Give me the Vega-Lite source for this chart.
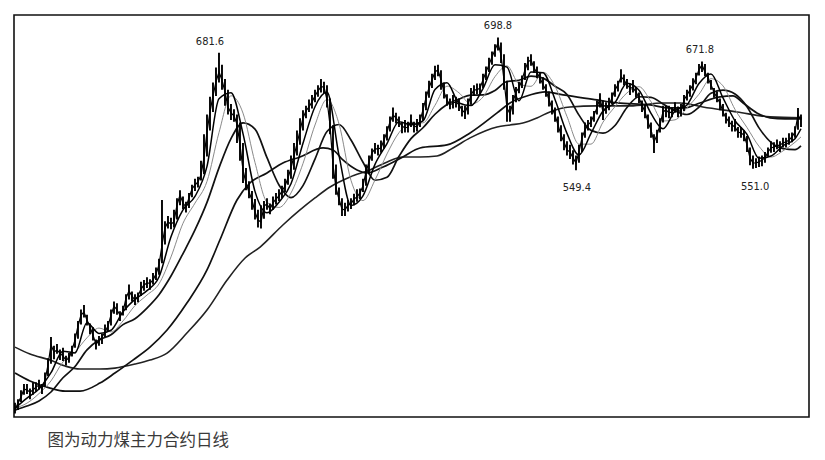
{
  "$schema": "https://vega.github.io/schema/vega-lite/v6.json",
  "width": 795,
  "height": 402,
  "autosize": {"type": "none"},
  "padding": {"left": 14, "top": 15, "right": 16, "bottom": 43},
  "background": "#ffffff",
  "config": {"view": {"stroke": "#111111", "strokeWidth": 1.6}},
  "title": {"text": "图为动力煤主力合约日线", "orient": "bottom", "anchor": "start", "offset": 16, "dx": 36, "font": "Noto Sans CJK SC", "fontSize": 16.5, "fontWeight": "normal", "color": "#3a3a3a", "baseline": "top"},
  "datasets": {
    "price": [
      {"t":0,"c":279.8,"h":288,"l":276},{"t":1,"c":287.6,"h":292,"l":280},{"t":2,"c":294.4,"h":302,"l":289},{"t":3,"c":303.4,"h":309,"l":297},{"t":4,"c":302.3,"h":309,"l":298},{"t":5,"c":300,"h":304,"l":292},{"t":6,"c":302.3,"h":311,"l":297},{"t":7,"c":305.6,"h":311,"l":300},{"t":8,"c":307.9,"h":314,"l":303},{"t":9,"c":304.5,"h":309,"l":298},
      {"t":10,"c":313.5,"h":322,"l":306},{"t":11,"c":330.4,"h":338,"l":318},{"t":12,"c":352.9,"h":362,"l":332},{"t":13,"c":345,"h":352,"l":337},{"t":14,"c":347.3,"h":354,"l":343},{"t":15,"c":343.9,"h":348,"l":336},{"t":16,"c":340.5,"h":350,"l":335},{"t":17,"c":336,"h":341,"l":330},{"t":18,"c":338.3,"h":344,"l":333},{"t":19,"c":347.3,"h":352,"l":340},
      {"t":20,"c":358.5,"h":366,"l":350},{"t":21,"c":374.3,"h":380,"l":360},{"t":22,"c":386.6,"h":393,"l":376},{"t":23,"c":390,"h":398,"l":384},{"t":24,"c":381,"h":387,"l":375},{"t":25,"c":373.1,"h":377,"l":365},{"t":26,"c":364.1,"h":373,"l":358},{"t":27,"c":354,"h":359,"l":348},{"t":28,"c":357.4,"h":363,"l":352},{"t":29,"c":361.9,"h":366,"l":354},
      {"t":30,"c":367.5,"h":376,"l":362},{"t":31,"c":374.3,"h":380,"l":368},{"t":32,"c":386.6,"h":393,"l":375},{"t":33,"c":396.8,"h":402,"l":388},{"t":34,"c":392.3,"h":400,"l":387},{"t":35,"c":386.6,"h":391,"l":380},{"t":36,"c":390,"h":397,"l":386},{"t":37,"c":405.8,"h":410,"l":392},{"t":38,"c":413.6,"h":421,"l":404},{"t":39,"c":408,"h":413,"l":402},
      {"t":40,"c":403.5,"h":410,"l":398},{"t":41,"c":408,"h":412,"l":401},{"t":42,"c":415.9,"h":424,"l":408},{"t":43,"c":420.4,"h":426,"l":414},{"t":44,"c":422.6,"h":429,"l":417},{"t":45,"c":422.6,"h":427,"l":415},{"t":46,"c":426,"h":434,"l":421},{"t":47,"c":432.8,"h":440,"l":426},{"t":48,"c":442.9,"h":450,"l":432},{"t":49,"c":465.4,"h":516,"l":445},
      {"t":50,"c":484.5,"h":492,"l":466},{"t":51,"c":491.3,"h":498,"l":484},{"t":52,"c":489,"h":496,"l":483},{"t":53,"c":491.3,"h":505,"l":485},{"t":54,"c":510.4,"h":518,"l":494},{"t":55,"c":521.6,"h":527,"l":510},{"t":56,"c":512.6,"h":520,"l":506},{"t":57,"c":508.1,"h":514,"l":502},{"t":58,"c":518.3,"h":524,"l":507},{"t":59,"c":528.4,"h":533,"l":519},
      {"t":60,"c":532.9,"h":540,"l":526},{"t":61,"c":536.3,"h":542,"l":530},{"t":62,"c":544.1,"h":560,"l":538},{"t":63,"c":563.3,"h":590,"l":545},{"t":64,"c":592.5,"h":612,"l":565},{"t":65,"c":615,"h":632,"l":594},{"t":66,"c":633,"h":648,"l":615},{"t":67,"c":648.8,"h":665,"l":633},{"t":68,"c":660,"h":681.6,"l":648},{"t":69,"c":651,"h":668,"l":640},
      {"t":70,"c":637.5,"h":652,"l":622},{"t":71,"c":620.6,"h":640,"l":612},{"t":72,"c":613.9,"h":624,"l":606},{"t":73,"c":610.5,"h":618,"l":604},{"t":74,"c":601.5,"h":612,"l":580},{"t":75,"c":577.9,"h":603,"l":560},{"t":76,"c":549.8,"h":580,"l":535},{"t":77,"c":535.1,"h":552,"l":527},{"t":78,"c":525,"h":537,"l":518},{"t":79,"c":516,"h":526,"l":505},
      {"t":80,"c":502.5,"h":517,"l":494},{"t":81,"c":493.5,"h":505,"l":485},{"t":82,"c":491.3,"h":510,"l":484},{"t":83,"c":509.3,"h":515,"l":495},{"t":84,"c":511.5,"h":518,"l":505},{"t":85,"c":505.9,"h":512,"l":500},{"t":86,"c":512.6,"h":520,"l":505},{"t":87,"c":517.1,"h":524,"l":511},{"t":88,"c":520.5,"h":528,"l":515},{"t":89,"c":526.1,"h":532,"l":518},
      {"t":90,"c":531.8,"h":540,"l":525},{"t":91,"c":540.8,"h":550,"l":533},{"t":92,"c":552,"h":566,"l":540},{"t":93,"c":565.5,"h":580,"l":550},{"t":94,"c":579,"h":594,"l":566},{"t":95,"c":593.6,"h":608,"l":578},{"t":96,"c":608.3,"h":617,"l":594},{"t":97,"c":616.1,"h":622,"l":608},{"t":98,"c":620.6,"h":629,"l":615},{"t":99,"c":626.3,"h":634,"l":619},
      {"t":100,"c":633,"h":640,"l":626},{"t":101,"c":638.6,"h":645,"l":632},{"t":102,"c":643.1,"h":652,"l":637},{"t":103,"c":643.1,"h":649,"l":636},{"t":104,"c":628.5,"h":645,"l":620},{"t":105,"c":600.4,"h":630,"l":590},{"t":106,"c":555.4,"h":600,"l":540},{"t":107,"c":529.5,"h":556,"l":522},{"t":108,"c":517.1,"h":530,"l":510},{"t":109,"c":505.9,"h":518,"l":498},
      {"t":110,"c":504.8,"h":513,"l":498},{"t":111,"c":510.4,"h":516,"l":503},{"t":112,"c":511.5,"h":518,"l":506},{"t":113,"c":517.1,"h":523,"l":510},{"t":114,"c":519.4,"h":528,"l":514},{"t":115,"c":523.9,"h":529,"l":517},{"t":116,"c":531.8,"h":540,"l":525},{"t":117,"c":547.5,"h":556,"l":532},{"t":118,"c":558.8,"h":566,"l":545},{"t":119,"c":568.9,"h":574,"l":560},
      {"t":120,"c":573.4,"h":580,"l":568},{"t":121,"c":573.4,"h":578,"l":566},{"t":122,"c":574.5,"h":583,"l":569},{"t":123,"c":583.5,"h":590,"l":574},{"t":124,"c":592.5,"h":599,"l":583},{"t":125,"c":603.8,"h":610,"l":593},{"t":126,"c":611.6,"h":620,"l":604},{"t":127,"c":608.3,"h":614,"l":602},{"t":128,"c":603.8,"h":610,"l":598},{"t":129,"c":599.3,"h":604,"l":591},
      {"t":130,"c":597,"h":606,"l":592},{"t":131,"c":598.1,"h":604,"l":592},{"t":132,"c":604.9,"h":612,"l":598},{"t":133,"c":599.3,"h":604,"l":592},{"t":134,"c":598.1,"h":607,"l":593},{"t":135,"c":604.9,"h":612,"l":598},{"t":136,"c":617.3,"h":625,"l":605},{"t":137,"c":630.8,"h":638,"l":617},{"t":138,"c":642,"h":650,"l":631},{"t":139,"c":651,"h":658,"l":642},
      {"t":140,"c":660,"h":667,"l":651},{"t":141,"c":662.3,"h":668,"l":655},{"t":142,"c":651,"h":662,"l":640},{"t":143,"c":637.5,"h":648,"l":630},{"t":144,"c":628.5,"h":635,"l":622},{"t":145,"c":622.9,"h":630,"l":618},{"t":146,"c":625.1,"h":634,"l":619},{"t":147,"c":626.3,"h":632,"l":620},{"t":148,"c":622.9,"h":630,"l":616},{"t":149,"c":617.3,"h":622,"l":610},
      {"t":150,"c":613.9,"h":622,"l":607},{"t":151,"c":622.9,"h":630,"l":612},{"t":152,"c":634.1,"h":642,"l":623},{"t":153,"c":639.8,"h":645,"l":633},{"t":154,"c":639.8,"h":647,"l":635},{"t":155,"c":642,"h":647,"l":634},{"t":156,"c":651,"h":658,"l":642},{"t":157,"c":660,"h":666,"l":651},{"t":158,"c":667.9,"h":676,"l":660},{"t":159,"c":676.9,"h":683,"l":668},
      {"t":160,"c":684.8,"h":691,"l":677},{"t":161,"c":692.6,"h":698.8,"l":684},{"t":162,"c":679.1,"h":693,"l":670},{"t":163,"c":651,"h":680,"l":640},{"t":164,"c":619.5,"h":650,"l":604},{"t":165,"c":612.8,"h":622,"l":604},{"t":166,"c":626.3,"h":634,"l":612},{"t":167,"c":637.5,"h":643,"l":626},{"t":168,"c":642,"h":649,"l":636},{"t":169,"c":651,"h":656,"l":642},
      {"t":170,"c":662.3,"h":670,"l":651},{"t":171,"c":671.3,"h":677,"l":662},{"t":172,"c":673.5,"h":680,"l":667},{"t":173,"c":664.5,"h":672,"l":659},{"t":174,"c":658.9,"h":666,"l":653},{"t":175,"c":653.3,"h":660,"l":647},{"t":176,"c":645.4,"h":654,"l":640},{"t":177,"c":639.8,"h":646,"l":632},{"t":178,"c":628.5,"h":638,"l":621},{"t":179,"c":619.5,"h":628,"l":612},
      {"t":180,"c":611.6,"h":620,"l":604},{"t":181,"c":600.4,"h":610,"l":592},{"t":182,"c":589.1,"h":600,"l":582},{"t":183,"c":581.3,"h":590,"l":572},{"t":184,"c":572.3,"h":582,"l":566},{"t":185,"c":570,"h":578,"l":562},{"t":186,"c":563.3,"h":572,"l":556},{"t":187,"c":557.6,"h":566,"l":549.4},{"t":188,"c":570,"h":578,"l":558},{"t":189,"c":585.8,"h":592,"l":570},
      {"t":190,"c":594.8,"h":603,"l":586},{"t":191,"c":600.4,"h":606,"l":594},{"t":192,"c":603.8,"h":610,"l":598},{"t":193,"c":611.6,"h":616,"l":604},{"t":194,"c":619.5,"h":628,"l":612},{"t":195,"c":630.8,"h":636,"l":620},{"t":196,"c":615,"h":628,"l":606},{"t":197,"c":619.5,"h":626,"l":613},{"t":198,"c":622.9,"h":631,"l":617},{"t":199,"c":630.8,"h":637,"l":624},
      {"t":200,"c":639.8,"h":646,"l":632},{"t":201,"c":645.4,"h":650,"l":638},{"t":202,"c":654.4,"h":663,"l":648},{"t":203,"c":651,"h":657,"l":645},{"t":204,"c":645.4,"h":652,"l":641},{"t":205,"c":642,"h":647,"l":634},{"t":206,"c":642,"h":651,"l":637},{"t":207,"c":637.5,"h":643,"l":631},{"t":208,"c":630.8,"h":637,"l":625},{"t":209,"c":622.9,"h":628,"l":615},
      {"t":210,"c":615,"h":623,"l":608},{"t":211,"c":603.8,"h":612,"l":596},{"t":212,"c":594.8,"h":603,"l":586},{"t":213,"c":581.3,"h":590,"l":568.9},{"t":214,"c":589.1,"h":595,"l":580},{"t":215,"c":600.4,"h":608,"l":592},{"t":216,"c":615,"h":622,"l":603},{"t":217,"c":617.3,"h":622,"l":609},{"t":218,"c":613.9,"h":622,"l":608},{"t":219,"c":615,"h":620,"l":609},
      {"t":220,"c":619.5,"h":626,"l":614},{"t":221,"c":617.3,"h":621,"l":609},{"t":222,"c":615,"h":624,"l":610},{"t":223,"c":628.5,"h":634,"l":616},{"t":224,"c":634.1,"h":640,"l":628},{"t":225,"c":639.8,"h":645,"l":632},{"t":226,"c":645.4,"h":653,"l":639},{"t":227,"c":653.3,"h":659,"l":646},{"t":228,"c":662.3,"h":669,"l":656},{"t":229,"c":667.9,"h":671.8,"l":660},
      {"t":230,"c":660,"h":669,"l":655},{"t":231,"c":653.3,"h":659,"l":647},{"t":232,"c":645.4,"h":651,"l":640},{"t":233,"c":637.5,"h":642,"l":631},{"t":234,"c":630.8,"h":638,"l":626},{"t":235,"c":625.1,"h":630,"l":617},{"t":236,"c":615,"h":624,"l":610},{"t":237,"c":608.3,"h":614,"l":602},{"t":238,"c":603.8,"h":610,"l":598},{"t":239,"c":600.4,"h":605,"l":593},
      {"t":240,"c":598.1,"h":607,"l":593},{"t":241,"c":592.5,"h":598,"l":586},{"t":242,"c":591.4,"h":598,"l":586},{"t":243,"c":589.1,"h":594,"l":582},{"t":244,"c":577.9,"h":588,"l":570},{"t":245,"c":563.3,"h":575,"l":555},{"t":246,"c":557.6,"h":566,"l":551.0},{"t":247,"c":557.6,"h":563,"l":552},{"t":248,"c":558.8,"h":565,"l":553},{"t":249,"c":561,"h":566,"l":554},
      {"t":250,"c":563.3,"h":570,"l":558},{"t":251,"c":570,"h":575,"l":565},{"t":252,"c":574.5,"h":582,"l":569},{"t":253,"c":575.6,"h":581,"l":570},{"t":254,"c":576.8,"h":584,"l":573},{"t":255,"c":577.9,"h":582,"l":570},{"t":256,"c":580.1,"h":586,"l":575},{"t":257,"c":581.3,"h":586,"l":575},{"t":258,"c":583.5,"h":591,"l":578},{"t":259,"c":586.9,"h":592,"l":581},
      {"t":260,"c":592.5,"h":599,"l":586},{"t":261,"c":611.6,"h":619.5,"l":595},{"t":262,"c":606,"h":612,"l":598}
    ],
    "ma5": [
      {"t":0,"v":282},{"t":4,"v":293.3},{"t":8,"v":303.4},{"t":12,"v":321.8},{"t":16,"v":345.9},{"t":20,"v":344.1},{"t":24,"v":378.1},{"t":28,"v":365.9},{"t":32,"v":369.5},{"t":36,"v":390.4},{"t":40,"v":404.2},{"t":44,"v":414.1},{"t":48,"v":429.4},{"t":52,"v":474.6},{"t":56,"v":505},{"t":60,"v":520},{"t":64,"v":553.8},{"t":68,"v":629.9},{"t":72,"v":636.6},{"t":76,"v":590.7},{"t":80,"v":525.7},{"t":84,"v":501.6},{"t":88,"v":513.5},{"t":92,"v":534.2},{"t":96,"v":579.7},{"t":100,"v":620.9},{"t":104,"v":637.3},{"t":108,"v":566.2},{"t":112,"v":509.9},{"t":116,"v":520.7},{"t":120,"v":556.1},{"t":124,"v":579.5},{"t":128,"v":604},{"t":132,"v":600.6},{"t":136,"v":604.9},{"t":140,"v":640.2},{"t":144,"v":647.9},{"t":148,"v":625.1},{"t":152,"v":622.2},{"t":156,"v":641.3},{"t":160,"v":668.1},{"t":164,"v":665.4},{"t":168,"v":627.6},{"t":172,"v":660},{"t":176,"v":659.1},{"t":180,"v":629},{"t":184,"v":590.9},{"t":188,"v":566.6},{"t":192,"v":590.9},{"t":196,"v":616.1},{"t":200,"v":625.6},{"t":204,"v":647.2},{"t":208,"v":639.5},{"t":212,"v":613.4},{"t":216,"v":596.1},{"t":220,"v":616.1},{"t":224,"v":622.9},{"t":228,"v":647},{"t":232,"v":657.8},{"t":236,"v":630.8},{"t":240,"v":605.1},{"t":244,"v":589.8},{"t":248,"v":563},{"t":252,"v":565.5},{"t":256,"v":577},{"t":260,"v":584.9},{"t":262,"v":596.1}
    ],
    "ma10": [
      {"t":0,"v":282},{"t":4,"v":287.6},{"t":8,"v":298.3},{"t":12,"v":312.6},{"t":16,"v":333.9},{"t":20,"v":345},{"t":24,"v":361.1},{"t":28,"v":372},{"t":32,"v":367.7},{"t":36,"v":380},{"t":40,"v":397.3},{"t":44,"v":409.1},{"t":48,"v":421.7},{"t":52,"v":452},{"t":56,"v":489.8},{"t":60,"v":512.5},{"t":64,"v":536.9},{"t":68,"v":591.8},{"t":72,"v":633.2},{"t":76,"v":613.7},{"t":80,"v":558.2},{"t":84,"v":513.6},{"t":88,"v":507.6},{"t":92,"v":523.9},{"t":96,"v":557},{"t":100,"v":600.3},{"t":104,"v":629.1},{"t":108,"v":601.7},{"t":112,"v":538.1},{"t":116,"v":515.3},{"t":120,"v":538.4},{"t":124,"v":567.8},{"t":128,"v":591.7},{"t":132,"v":602.3},{"t":136,"v":602.7},{"t":140,"v":622.5},{"t":144,"v":644},{"t":148,"v":636.5},{"t":152,"v":623.7},{"t":156,"v":631.8},{"t":160,"v":654.7},{"t":164,"v":666.8},{"t":168,"v":646.5},{"t":172,"v":643.8},{"t":176,"v":659.6},{"t":180,"v":644},{"t":184,"v":609.9},{"t":188,"v":578.8},{"t":192,"v":578.8},{"t":196,"v":603.5},{"t":200,"v":620.9},{"t":204,"v":636.4},{"t":208,"v":643.4},{"t":212,"v":626.5},{"t":216,"v":604.8},{"t":220,"v":606.1},{"t":224,"v":619.5},{"t":228,"v":634.9},{"t":232,"v":652.4},{"t":236,"v":644.3},{"t":240,"v":617.9},{"t":244,"v":597.5},{"t":248,"v":576.4},{"t":252,"v":564.3},{"t":256,"v":571.2},{"t":260,"v":580.9},{"t":262,"v":586.9}
    ],
    "ma20": [
      {"t":0,"v":279.8},{"t":4,"v":284.3},{"t":8,"v":290.1},{"t":12,"v":300.1},{"t":16,"v":316.1},{"t":20,"v":328.8},{"t":24,"v":347.5},{"t":28,"v":358.5},{"t":32,"v":364.4},{"t":36,"v":375.9},{"t":40,"v":382.5},{"t":44,"v":394.5},{"t":48,"v":409.5},{"t":52,"v":430.5},{"t":56,"v":455.7},{"t":60,"v":482.3},{"t":64,"v":513.3},{"t":68,"v":552.1},{"t":72,"v":585.1},{"t":76,"v":602.7},{"t":80,"v":595.7},{"t":84,"v":563.6},{"t":88,"v":532.9},{"t":92,"v":518.7},{"t":96,"v":532.2},{"t":100,"v":562},{"t":104,"v":593},{"t":108,"v":600.9},{"t":112,"v":583.5},{"t":116,"v":558.5},{"t":120,"v":538.2},{"t":124,"v":541.5},{"t":128,"v":565.1},{"t":132,"v":585},{"t":136,"v":597.2},{"t":140,"v":612.4},{"t":144,"v":623.3},{"t":148,"v":629.5},{"t":152,"v":633.8},{"t":156,"v":634.1},{"t":160,"v":639.2},{"t":164,"v":649.2},{"t":168,"v":650.6},{"t":172,"v":655.3},{"t":176,"v":653},{"t":180,"v":643.9},{"t":184,"v":634.7},{"t":188,"v":611.4},{"t":192,"v":594.3},{"t":196,"v":591.2},{"t":200,"v":599.8},{"t":204,"v":620},{"t":208,"v":632.1},{"t":212,"v":631.4},{"t":216,"v":624},{"t":220,"v":616.2},{"t":224,"v":612.1},{"t":228,"v":620.5},{"t":232,"v":635.9},{"t":236,"v":639.5},{"t":240,"v":635.1},{"t":244,"v":620.9},{"t":248,"v":597.1},{"t":252,"v":580.8},{"t":256,"v":573.8},{"t":260,"v":572.6},{"t":262,"v":576.8}
    ],
    "ma40": [
      {"t":0,"v":321.4},{"t":5,"v":312.4},{"t":11.7,"v":304.5},{"t":16.7,"v":301.1},{"t":21.7,"v":301.1},{"t":28.3,"v":310.1},{"t":33.3,"v":321.4},{"t":39.3,"v":336},{"t":45,"v":350.6},{"t":50.7,"v":369.8},{"t":57.3,"v":400.1},{"t":64,"v":437.3},{"t":68.3,"v":471},{"t":74,"v":516},{"t":78.3,"v":535.1},{"t":84,"v":546.4},{"t":89.3,"v":557.6},{"t":95,"v":564.4},{"t":102.7,"v":574.5},{"t":106,"v":572.3},{"t":109.3,"v":561},{"t":114,"v":549.8},{"t":117.3,"v":546.4},{"t":122.7,"v":553.1},{"t":129.3,"v":564.4},{"t":135,"v":574.5},{"t":144,"v":577.9},{"t":151.7,"v":591.4},{"t":160.7,"v":613.9},{"t":165,"v":625.1},{"t":171.7,"v":634.1},{"t":176.7,"v":637.5},{"t":182.7,"v":634.1},{"t":194,"v":628.5},{"t":200.7,"v":625.1},{"t":211.7,"v":622.9},{"t":218.3,"v":619.5},{"t":223.3,"v":619.5},{"t":228.3,"v":625.1},{"t":235,"v":631.9},{"t":239.3,"v":633},{"t":242.7,"v":625.1},{"t":247.3,"v":613.9},{"t":251.7,"v":608.3},{"t":256.7,"v":607.1},{"t":262.3,"v":607.1}
    ],
    "ma60": [
      {"t":0,"v":350.6},{"t":5,"v":342.8},{"t":11.7,"v":336},{"t":16.7,"v":329.3},{"t":21.7,"v":325.9},{"t":28.3,"v":325.9},{"t":33.3,"v":327},{"t":40,"v":331.5},{"t":45,"v":336},{"t":50.7,"v":343.9},{"t":57.3,"v":366.4},{"t":64,"v":392.3},{"t":70.7,"v":426},{"t":76.7,"v":450.8},{"t":81.7,"v":463.1},{"t":89.3,"v":487.9},{"t":95,"v":504.8},{"t":100,"v":518.3},{"t":105,"v":530.6},{"t":111.7,"v":541.9},{"t":118.3,"v":549.8},{"t":123.3,"v":557.6},{"t":129.3,"v":564.4},{"t":135,"v":564.4},{"t":140.7,"v":565.5},{"t":146,"v":574.5},{"t":151.7,"v":585.8},{"t":156.7,"v":593.6},{"t":160.7,"v":598.1},{"t":165,"v":600.4},{"t":169.3,"v":602.6},{"t":174,"v":608.3},{"t":178.3,"v":615},{"t":185,"v":620.6},{"t":194,"v":621.8},{"t":205,"v":621.8},{"t":216,"v":625.1},{"t":221.7,"v":625.1},{"t":229.3,"v":620.6},{"t":240.7,"v":615},{"t":251.7,"v":609.4},{"t":262.3,"v":608.3}
    ],
    "labels": [
      {"t":65,"v":681.6,"s":"681.6","pos":"top"},
      {"t":161,"v":698.8,"s":"698.8","pos":"top"},
      {"t":228.3,"v":671.8,"s":"671.8","pos":"top"},
      {"t":187.3,"v":549.4,"s":"549.4","pos":"bottom"},
      {"t":246.7,"v":551.0,"s":"551.0","pos":"bottom"}
    ]
  },
  "layer": [
    {
      "data": {"name": "ma60"},
      "mark": {"type": "line", "color": "#222222", "strokeWidth": 1.6, "interpolate": "monotone"},
      "encoding": {
        "x": {"field": "t", "type": "quantitative", "scale": {"domain": [-0.33, 264.67], "nice": false, "zero": false}, "axis": null},
        "y": {"field": "v", "type": "quantitative", "scale": {"domain": [272, 724], "nice": false, "zero": false}, "axis": null}
      }
    },
    {
      "data": {"name": "ma40"},
      "mark": {"type": "line", "color": "#111111", "strokeWidth": 1.7, "interpolate": "monotone"},
      "encoding": {
        "x": {"field": "t", "type": "quantitative", "scale": {"domain": [-0.33, 264.67], "nice": false, "zero": false}, "axis": null},
        "y": {"field": "v", "type": "quantitative", "scale": {"domain": [272, 724], "nice": false, "zero": false}, "axis": null}
      }
    },
    {
      "data": {"name": "ma20"},
      "mark": {"type": "line", "color": "#111111", "strokeWidth": 1.7, "interpolate": "monotone"},
      "encoding": {
        "x": {"field": "t", "type": "quantitative", "scale": {"domain": [-0.33, 264.67], "nice": false, "zero": false}, "axis": null},
        "y": {"field": "v", "type": "quantitative", "scale": {"domain": [272, 724], "nice": false, "zero": false}, "axis": null}
      }
    },
    {
      "data": {"name": "ma10"},
      "mark": {"type": "line", "color": "#8a8a8a", "strokeWidth": 1, "interpolate": "monotone"},
      "encoding": {
        "x": {"field": "t", "type": "quantitative", "scale": {"domain": [-0.33, 264.67], "nice": false, "zero": false}, "axis": null},
        "y": {"field": "v", "type": "quantitative", "scale": {"domain": [272, 724], "nice": false, "zero": false}, "axis": null}
      }
    },
    {
      "data": {"name": "price"},
      "mark": {"type": "rule", "color": "#000000", "strokeWidth": 1.9},
      "encoding": {
        "x": {"field": "t", "type": "quantitative", "scale": {"domain": [-0.33, 264.67], "nice": false, "zero": false}, "axis": null},
        "y": {"field": "l", "type": "quantitative", "scale": {"domain": [272, 724], "nice": false, "zero": false}, "axis": null},
        "y2": {"field": "h"}
      }
    },
    {
      "data": {"name": "price"},
      "mark": {"type": "line", "color": "#000000", "strokeWidth": 1.2},
      "encoding": {
        "x": {"field": "t", "type": "quantitative", "scale": {"domain": [-0.33, 264.67], "nice": false, "zero": false}, "axis": null},
        "y": {"field": "c", "type": "quantitative", "scale": {"domain": [272, 724], "nice": false, "zero": false}, "axis": null}
      }
    },
    {
      "data": {"name": "ma5"},
      "mark": {"type": "line", "color": "#000000", "strokeWidth": 1.5, "interpolate": "monotone"},
      "encoding": {
        "x": {"field": "t", "type": "quantitative", "scale": {"domain": [-0.33, 264.67], "nice": false, "zero": false}, "axis": null},
        "y": {"field": "v", "type": "quantitative", "scale": {"domain": [272, 724], "nice": false, "zero": false}, "axis": null}
      }
    },
    {
      "data": {"name": "labels"},
      "transform": [{"filter": "datum.pos === 'top'"}],
      "mark": {"type": "text", "baseline": "bottom", "align": "center", "dy": -6, "font": "Liberation Sans Narrow, DejaVu Sans Condensed, Roboto, sans-serif", "fontSize": 11, "color": "#222222"},
      "encoding": {
        "x": {"field": "t", "type": "quantitative", "scale": {"domain": [-0.33, 264.67], "nice": false, "zero": false}, "axis": null},
        "y": {"field": "v", "type": "quantitative", "scale": {"domain": [272, 724], "nice": false, "zero": false}, "axis": null},
        "text": {"field": "s"}
      }
    },
    {
      "data": {"name": "labels"},
      "transform": [{"filter": "datum.pos === 'bottom'"}],
      "mark": {"type": "text", "baseline": "top", "align": "center", "dy": 12, "font": "Liberation Sans Narrow, DejaVu Sans Condensed, Roboto, sans-serif", "fontSize": 11, "color": "#222222"},
      "encoding": {
        "x": {"field": "t", "type": "quantitative", "scale": {"domain": [-0.33, 264.67], "nice": false, "zero": false}, "axis": null},
        "y": {"field": "v", "type": "quantitative", "scale": {"domain": [272, 724], "nice": false, "zero": false}, "axis": null},
        "text": {"field": "s"}
      }
    }
  ]
}
